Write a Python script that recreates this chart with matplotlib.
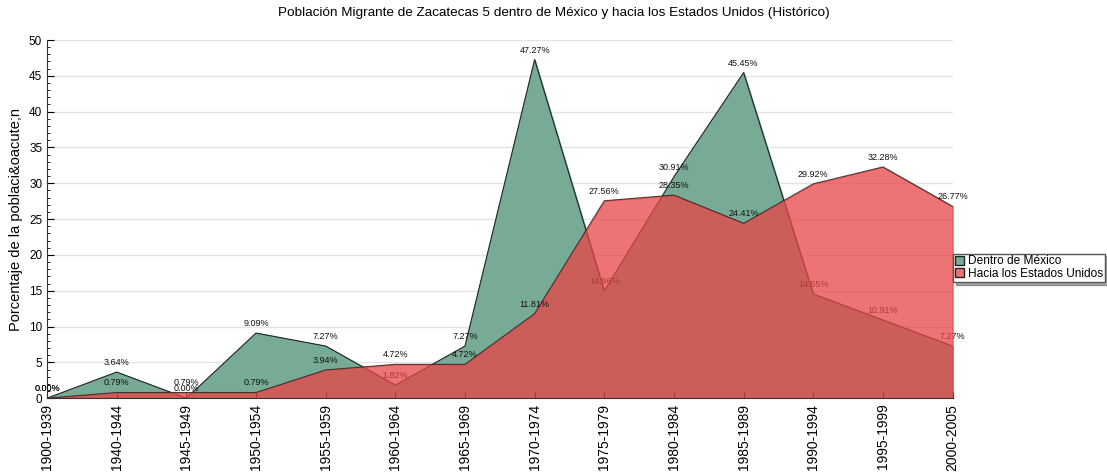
import matplotlib.pyplot as plt
import numpy as np
from matplotlib.patches import Patch
from matplotlib.ticker import MultipleLocator

plt.rcParams['font.family'] = ['Liberation Sans', 'DejaVu Sans']

periodos = ['1900-1939', '1940-1944', '1945-1949', '1950-1954', '1955-1959',
            '1960-1964', '1965-1969', '1970-1974', '1975-1979', '1980-1984',
            '1985-1989', '1990-1994', '1995-1999', '2000-2005']
dentro_mexico = [0.00, 3.64, 0.00, 9.09, 7.27, 1.82, 7.27, 47.27, 14.96,
                 30.91, 45.45, 14.55, 10.91, 7.27]
hacia_eu = [0.00, 0.79, 0.79, 0.79, 3.94, 4.72, 4.72, 11.81, 27.56,
            28.35, 24.41, 29.92, 32.28, 26.77]

verde = '#77ab96'
rojo = '#e84545'

fig = plt.figure(figsize=(11.07, 4.74), dpi=100)
ax = fig.add_axes([0.0425, 0.16, 0.818, 0.7556])
x = np.arange(len(periodos))

# rejilla horizontal
for v in range(5, 51, 5):
    ax.axhline(v, color='#e3e3e3', lw=1, zorder=0)

ax.fill_between(x, dentro_mexico, color=verde, zorder=1)
ax.plot(x, dentro_mexico, color='#222222', lw=0.8, zorder=1.5)
for i, v in enumerate(dentro_mexico):
    ax.text(i, v + 0.7, '%.2f%%' % v, ha='center', va='bottom', fontsize=6.5,
            color='#111111', zorder=1.6)

ax.fill_between(x, hacia_eu, color=rojo, alpha=0.75, zorder=2)
ax.plot(x, hacia_eu, color='#222222', lw=0.8, alpha=0.8, zorder=2.5)
for i, v in enumerate(hacia_eu):
    ax.text(i, v + 0.7, '%.2f%%' % v, ha='center', va='bottom', fontsize=6.5,
            color='#111111', zorder=3)

ax.set_xlim(0, len(periodos) - 1)
ax.set_ylim(0, 50)
ax.set_xticks(x)
ax.set_xticklabels(periodos, rotation=90, fontsize=10)
ax.yaxis.set_major_locator(MultipleLocator(5))
ax.yaxis.set_minor_locator(MultipleLocator(1))
ax.tick_params(axis='y', which='major', direction='in', length=5, labelsize=8.5)
ax.tick_params(axis='y', which='minor', direction='in', length=2.5)
ax.tick_params(axis='x', direction='in', length=4, pad=4)
for s in ['top', 'right']:
    ax.spines[s].set_visible(False)
ax.spines['left'].set_color('#333333')
ax.spines['bottom'].set_color('#333333')
ax.set_ylabel('Porcentaje de la poblaci&oacute;n', fontsize=10.5)

fig.suptitle('Población Migrante de Zacatecas 5 dentro de México y hacia los Estados Unidos (Histórico)',
             fontsize=9.7, y=0.985)

handles = [Patch(facecolor=verde, edgecolor='#222222', label='Dentro de México'),
           Patch(facecolor='#ee7474', edgecolor='#222222', label='Hacia los Estados Unidos')]
fig.legend(handles=handles, loc='upper left', bbox_to_anchor=(0.861, 0.465),
           fontsize=8.6, handlelength=0.8, handleheight=0.8, handletextpad=0.3,
           borderpad=0.15, labelspacing=0.05, fancybox=False, shadow=True,
           edgecolor='#555555', borderaxespad=0)

fig.savefig('out.png', dpi=100)
